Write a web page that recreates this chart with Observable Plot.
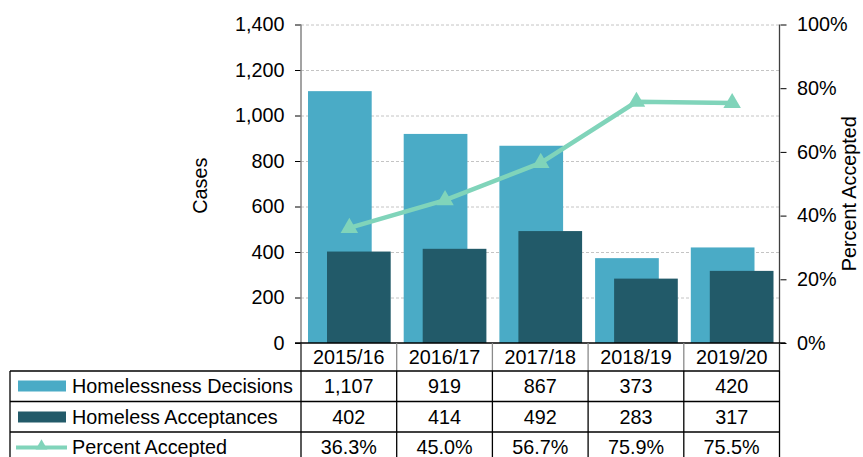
<!DOCTYPE html>
<html><head><meta charset="utf-8">
<script src="https://cdn.jsdelivr.net/npm/d3@7"></script>
<script src="https://cdn.jsdelivr.net/npm/@observablehq/plot@0.6"></script>
<style>
html,body{margin:0;padding:0;background:#fff;}
#chart{width:863px;height:457px;overflow:hidden;}
</style></head><body><div id="chart"></div>
<script>
const years = ["2015/16","2016/17","2017/18","2018/19","2019/20"];
const decisions = [1107, 919, 867, 373, 420];
const acceptances = [402, 414, 492, 283, 317];
const percentAccepted = [36.3, 45.0, 56.7, 75.9, 75.5];
const casesTicks = [0, 200, 400, 600, 800, 1000, 1200, 1400];
const percentTicks = [0, 20, 40, 60, 80, 100];
const seriesNames = ["Homelessness Decisions", "Homeless Acceptances", "Percent Accepted"];
const axisTitles = {left: "Cases", right: "Percent Accepted"};
const colors = {decisions: "#4aabc6", acceptances: "#225a69", percent: "#80d4ba"};

const CASES_MAX = 1400, PCT_MAX = 100;
const toCases = p => p / PCT_MAX * CASES_MAX;
const fmtCases = d3.format(",");
const fmtPct = v => v.toFixed(1) + "%";

const rows = years.map((year, i) => ({year, decisions: decisions[i], acceptances: acceptances[i], pct: percentAccepted[i]}));

const font = "'Liberation Sans', Arial, sans-serif";
const fs = 19.8;

function tableMark(index, scales, values, dims) {
  const x = scales.x, bw = x.bandwidth();
  const L = dims.marginLeft, R = dims.width - dims.marginRight;
  const T = dims.marginTop, B = dims.height - dims.marginBottom;
  const g = d3.create("svg:g").attr("font-family", font).attr("font-size", fs).attr("fill", "#000").attr("text-anchor", "middle");
  const line = (x1, y1, x2, y2, stroke, w = 1) => g.append("line").attr("x1", x1).attr("y1", y1).attr("x2", x2).attr("y2", y2).attr("stroke", stroke).attr("stroke-width", w);
  // axis lines
  line(L, T, L, B, "#858585", 1.5);
  line(R, T, R, B, "#404040", 1.3);
  line(L - 6, B, R + 6, B, "#000", 1.3);
  // axis titles
  const cy = (T + B) / 2;
  g.append("text").attr("transform", `translate(207,${cy + 2}) rotate(-90)`).text(axisTitles.left);
  g.append("text").attr("transform", `translate(856,${cy + 10}) rotate(-90)`).text(axisTitles.right);
  // header row
  const headerH = 28, rowH = 30.5, tableLeft = 10;
  const edges = [...years.map(y => x(y)), x(years[years.length - 1]) + bw];
  edges.forEach((e, i) => line(e, B, e, B + headerH, (i === 0 || i === edges.length - 1) ? "#222" : "#8a8a8a", 1.3));
  years.forEach(y => g.append("text").attr("x", x(y) + bw / 2).attr("y", B + 20.5).text(y));
  // body rows
  const tops = [0, 1, 2, 3].map(i => B + headerH + i * rowH);
  tops.forEach(t => line(tableLeft, t, R, t, "#000", 1.3));
  [tableLeft, ...edges].forEach(e => line(e, tops[0], e, tops[3], "#000", 1.3));
  const bodyValues = [decisions.map(fmtCases), acceptances.map(fmtCases), percentAccepted.map(fmtPct)];
  bodyValues.forEach((vals, r) => vals.forEach((v, c) =>
    g.append("text").attr("x", x(years[c]) + bw / 2).attr("y", tops[r] + 22).text(v)));
  // legend column
  g.append("rect").attr("x", 18).attr("y", tops[0] + 9.5).attr("width", 48).attr("height", 11).attr("fill", colors.decisions);
  g.append("rect").attr("x", 18).attr("y", tops[1] + 10).attr("width", 48).attr("height", 11).attr("fill", colors.acceptances);
  line(16, tops[2] + 15.5, 67, tops[2] + 15.5, colors.percent, 4);
  g.append("path").attr("transform", `translate(41.5,${tops[2] + 14})`).attr("d", d3.symbol(d3.symbolTriangle, 60)()).attr("fill", colors.percent);
  seriesNames.forEach((n, r) => g.append("text").attr("x", 72).attr("y", tops[r] + 22).attr("text-anchor", "start").text(n));
  return g.node();
}

const plot = Plot.plot({
  width: 863,
  height: 457,
  marginLeft: 301,
  marginRight: 83.5,
  marginTop: 24.5,
  marginBottom: 114,
  style: {fontFamily: font, fontSize: fs + "px", background: "#fff", color: "#000", overflow: "visible"},
  x: {type: "band", domain: years, padding: 0, round: false, axis: null},
  y: {domain: [0, CASES_MAX], axis: null},
  marks: [
    Plot.gridY(casesTicks.filter(v => v > 0), {stroke: "#c4c4c4", strokeOpacity: 1, strokeDasharray: "3,2", strokeWidth: 1}),
    Plot.barY(rows, {x: "year", y: "decisions", fill: colors.decisions, insetLeft: 7, insetRight: 25}),
    Plot.barY(rows, {x: "year", y: "acceptances", fill: colors.acceptances, insetLeft: 26, insetRight: 6}),
    Plot.line(rows, {x: "year", y: d => toCases(d.pct), stroke: colors.percent, strokeWidth: 4.5}),
    Plot.dot(rows, {x: "year", y: d => toCases(d.pct), symbol: "triangle", r: 6.5, fill: colors.percent, stroke: "none"}),
    Plot.axisY({anchor: "left", ticks: casesTicks, tickFormat: fmtCases, tickSize: 6, tickPadding: 11, label: null, fontSize: fs, stroke: "#000", fill: "#000"}),
    Plot.axisY({anchor: "right", ticks: percentTicks.map(toCases), tickFormat: d => Math.round(d / CASES_MAX * PCT_MAX) + "%", tickSize: 6, tickPadding: 11, label: null, fontSize: fs, stroke: "#000", fill: "#000"}),
    tableMark
  ]
});
document.getElementById("chart").appendChild(plot);
</script></body></html>
